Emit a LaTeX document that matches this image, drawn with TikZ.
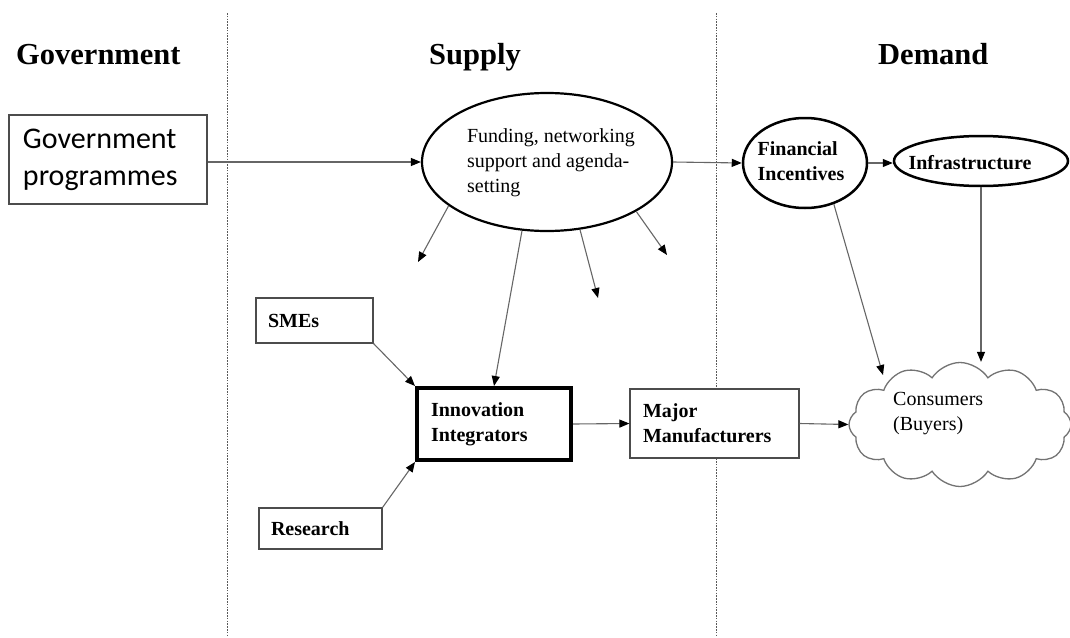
\documentclass[tikz,border=0pt]{standalone}
\usepackage{fontspec}
\setmainfont{Liberation Serif}
\newfontfamily\calibrifont{Carlito}
\usetikzlibrary{shapes.geometric,shapes.symbols,arrows.meta}
\begin{document}
\begin{tikzpicture}[x=1pt,y=-1pt,
  divider/.style={draw=black!65, line width=0.9pt, dash pattern=on 1.6pt off 1.2pt},
  heading/.style={font=\fontsize{30.5}{35}\selectfont\bfseries, inner sep=0, anchor=base west},
  box/.style={draw=black!70, line width=1.2pt, fill=white, inner ysep=0, align=left,
              font=\fontsize{20}{25}\selectfont\bfseries},
  oval/.style={ellipse, draw=black, line width=2.2pt, fill=white, inner sep=0},
  lbl/.style={inner sep=0, align=left, font=\fontsize{20}{25}\selectfont},
  conn/.style={draw=black!60, line width=1.1pt, -{Triangle[length=10pt,width=8pt,color=black]}}
]
\useasboundingbox (0,0) rectangle (1070,637);

% dividers
\coordinate (d1t) at (227,13); \coordinate (d1b) at (227,637);
\coordinate (d2t) at (716,13); \coordinate (d2b) at (716,637);
\draw[divider] (d1t) -- (d1b);
\draw[divider] (d2t) -- (d2b);

% headings
\node[heading] (hgov) at (16,64) {Government};
\node[heading] (hsup) at (429,64) {Supply};
\node[heading] (hdem) at (878,64) {Demand};

% government programmes
\node[draw=black!70, line width=1.2pt, fill=white, minimum width=198, minimum height=89,
      text width=170, inner xsep=14, inner ysep=0, align=left,
      font=\calibrifont\fontsize{30}{37}\selectfont] (gp) at (108,159.5)
      {Government\\programmes};

% ovals
\node[oval, minimum width=250, minimum height=138] (fund) at (547,162) {};
\node[lbl] (fundtxt) at (551,163) {Funding, networking\\support and agenda-\\setting};

\node[oval, line width=2.5pt, minimum width=124, minimum height=90] (fi) at (805,163) {};
\node[lbl, font=\fontsize{20}{25}\selectfont\bfseries] (fitxt) at (801,161) {Financial\\Incentives};

\node[oval, line width=2.5pt, minimum width=174, minimum height=50] (infra) at (981,161) {};
\node[lbl, font=\fontsize{20}{25}\selectfont\bfseries] (infratxt) at (970,163) {Infrastructure};

% boxes
\node[box, minimum width=117, minimum height=45, text width=93, inner xsep=12] (sme) at (314.5,320.5) {SMEs};
\node[box, minimum width=123, minimum height=41, text width=99, inner xsep=12] (res) at (320.5,528.5) {Research};
\node[box, draw=black, line width=4pt, minimum width=154, minimum height=72, text width=126, inner xsep=14] (ii) at (494,424) {Innovation\\Integrators};
\node[box, minimum width=169, minimum height=69, text width=143, inner xsep=13] (mm) at (714.5,423.5) {Major\\Manufacturers};

% consumers cloud
\node[cloud, draw=black!55, line width=1.3pt, fill=white, cloud puffs=12, cloud puff arc=115,
      minimum width=222, minimum height=124, inner sep=0] (cons) at (960,424.5) {};
\node[lbl, anchor=west] (constxt) at (893,414) {Consumers\\(Buyers)};

% free arrow ends
\coordinate (f1) at (418,262);
\coordinate (f2) at (598,298);
\coordinate (f3) at (667,255);
\coordinate (cin) at (883,375);

% connectors
\draw[conn] (gp.east |- fund.west) -- (fund.west);
\draw[conn] (fund.east) -- (fi.west);
\draw[conn] (fi.east) -- (infra.west |- fi.east);
\draw[conn] (infra.south) -- (infra.south |- cons.north);
\draw[conn] (fi.-55) -- (cin);
\draw[conn] (fund.-156) -- (f1);
\draw[conn] (fund.-64) -- (f2);
\draw[conn] (fund.-29) -- (f3);
\draw[conn] (fund.-110) -- (ii.north);
\draw[conn] (sme.south east) -- (ii.north west);
\draw[conn] (res.north east) -- (ii.south west);
\draw[conn] (ii.east) -- (mm.west);
\draw[conn] (mm.east) -- (cons.west);
\end{tikzpicture}
\end{document}
